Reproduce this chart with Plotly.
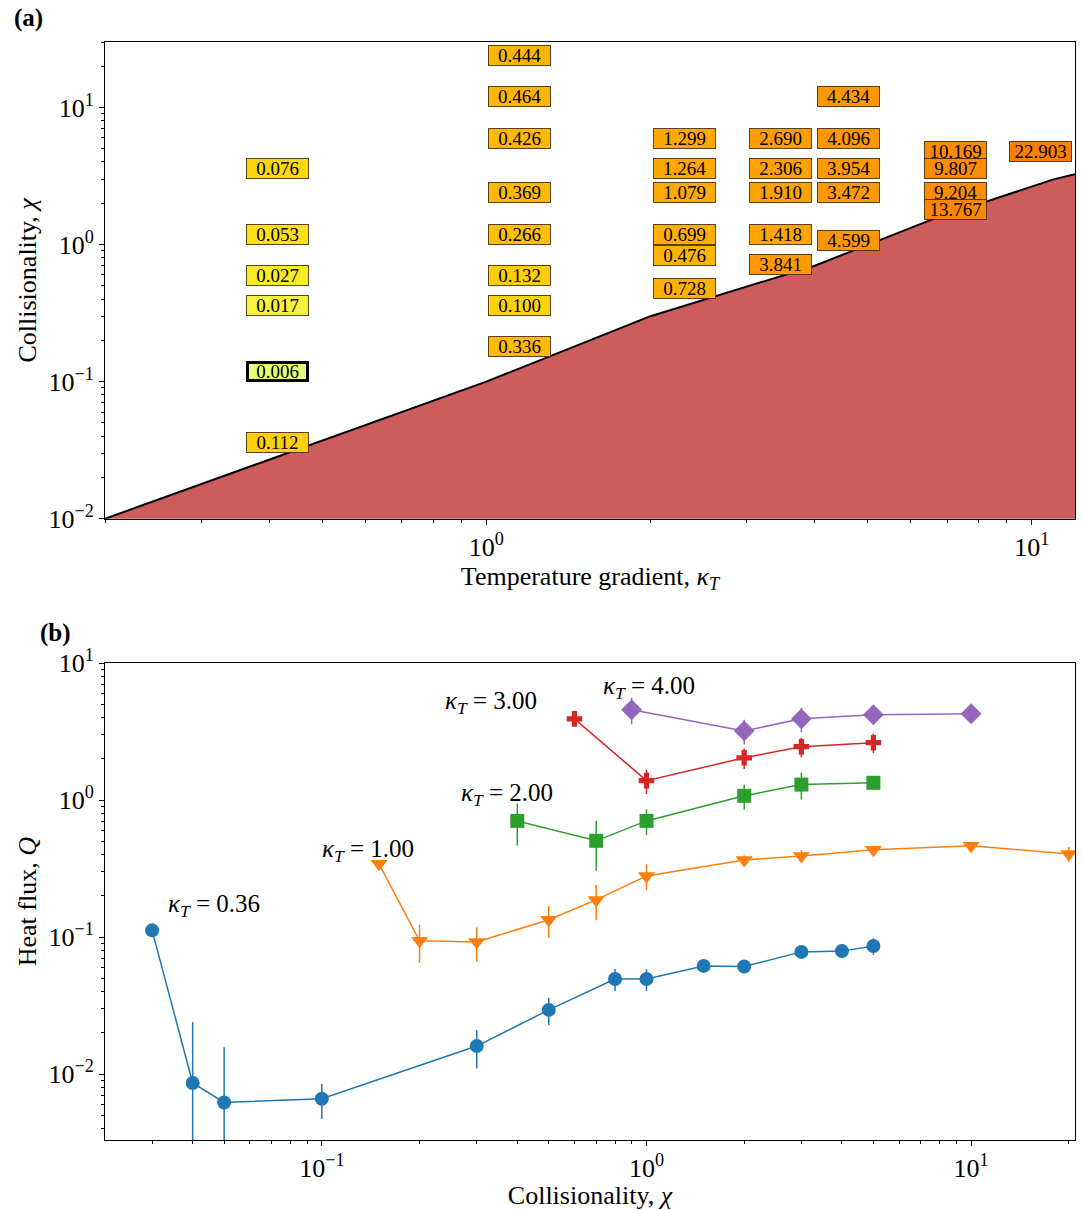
import numpy as np
import plotly.graph_objects as go
from plotly.colors import sample_colorscale

# ---------------- Panel (a) data ----------------
boundary_kappa = [0.2, 1.0, 2.0, 4.0, 6.5, 11.0, 12.0]
boundary_chi = [0.01, 0.1, 0.3, 0.7, 1.5, 3.0, 3.25]

label_kappa = [0.36, 0.36, 0.36, 0.36, 0.36, 0.36,
               1, 1, 1, 1, 1, 1, 1, 1,
               2, 2, 2, 2, 2, 2,
               3, 3, 3, 3, 3,
               4, 4, 4, 4, 4,
               6.3, 6.3, 6.3, 6.3,
               9]
label_chi = [3, 1, 0.5, 0.3, 0.1, 0.03,
             20, 10, 5, 2, 1, 0.5, 0.3, 0.15,
             5, 3, 2, 1, 0.7, 0.4,
             5, 3, 2, 1, 0.6,
             10, 5, 3, 2, 0.9,
             4, 3, 2, 1.5,
             4]
label_Q = [0.076, 0.053, 0.027, 0.017, 0.006, 0.112,
           0.444, 0.464, 0.426, 0.369, 0.266, 0.132, 0.100, 0.336,
           1.299, 1.264, 1.079, 0.699, 0.476, 0.728,
           2.690, 2.306, 1.910, 1.418, 3.841,
           4.434, 4.096, 3.954, 3.472, 4.599,
           10.169, 9.807, 9.204, 13.767,
           22.903]

# ---------------- Panel (b) data ----------------
chi_036 = [0.03, 0.04, 0.05, 0.1, 0.3, 0.5, 0.8, 1, 1.5, 2, 3, 4, 5]
Q_036 = [0.112, 0.0086, 0.0062, 0.0066, 0.016, 0.0294, 0.0494, 0.0494, 0.0616, 0.061, 0.078, 0.079, 0.086]
E_036 = [0.003, 0.0154, 0.0095, 0.0019, 0.005, 0.0066, 0.009, 0.009, 0.004, 0.005, 0.005, 0.004, 0.012]

chi_100 = [0.15, 0.2, 0.3, 0.5, 0.7, 1, 2, 3, 5, 10, 20]
Q_100 = [0.343, 0.094, 0.092, 0.134, 0.187, 0.28, 0.366, 0.392, 0.434, 0.464, 0.405]
E_100 = [0.02, 0.029, 0.026, 0.035, 0.054, 0.06, 0.03, 0.04, 0.03, 0.03, 0.05]

chi_200 = [0.4, 0.7, 1, 2, 3, 5]
Q_200 = [0.706, 0.505, 0.706, 1.077, 1.30, 1.34]
E_200 = [0.24, 0.2, 0.15, 0.22, 0.29, 0.03]

chi_300 = [0.6, 1, 2, 3, 5]
Q_300 = [3.93, 1.39, 2.04, 2.46, 2.63]
E_300 = [0.3, 0.28, 0.35, 0.4, 0.43]

chi_400 = [0.9, 2, 3, 5, 10]
Q_400 = [4.58, 3.21, 3.93, 4.21, 4.28]
E_400 = [1.0, 0.66, 0.8, 0.2, 0.2]

series_names = ["0.36", "1.00", "2.00", "3.00", "4.00"]
series_chi = [chi_036, chi_100, chi_200, chi_300, chi_400]
series_Q = [Q_036, Q_100, Q_200, Q_300, Q_400]
series_E = [E_036, E_100, E_200, E_300, E_400]
series_colors = ["#1f77b4", "#ff7f0e", "#2ca02c", "#d62728", "#9467bd"]
series_symbols = ["circle", "triangle-down", "square", "cross", "diamond"]
series_sizes = [14, 15, 14, 13, 16]
# label anchor positions (chi, Q) for the kappa_T texts
text_chi = [0.033, 0.099, 0.264, 0.236, 0.722]
text_Q = [0.169, 0.426, 1.095, 5.15, 6.64]

FONT = "Liberation Serif"

fig = go.Figure()

# ----- panel (a) -----
fig.add_trace(go.Scatter(
    x=boundary_kappa + [boundary_kappa[-1], boundary_kappa[0]],
    y=boundary_chi + [1e-3, 1e-3],
    fill="toself", fillcolor="#cd5c5c", mode="none",
    xaxis="x", yaxis="y", showlegend=False, hoverinfo="skip"))
fig.add_trace(go.Scatter(
    x=boundary_kappa, y=boundary_chi, mode="lines",
    line=dict(color="black", width=2),
    xaxis="x", yaxis="y", showlegend=False))

wistia = [[0.0, "rgb(228,255,122)"], [0.25, "rgb(255,232,26)"],
          [0.5, "rgb(255,189,0)"], [0.75, "rgb(255,160,0)"],
          [1.0, "rgb(252,127,0)"]]
lq = np.log10(label_Q)
norm = (lq - lq.min()) / (lq.max() - lq.min())
box_colors = sample_colorscale(wistia, [float(v) ** 0.9 for v in norm])
qmin = min(label_Q)

annotations = []
for k, c, q, col in zip(label_kappa, label_chi, label_Q, box_colors):
    hl = (q == qmin)
    annotations.append(dict(
        x=np.log10(k), y=np.log10(c), xref="x", yref="y",
        xanchor="left", yanchor="bottom", xshift=2,
        text=f"{q:.3f}", showarrow=False,
        font=dict(family=FONT, size=19, color="black"),
        bgcolor=col,
        bordercolor="black" if hl else "rgba(60,40,0,0.85)",
        borderwidth=3 if hl else 1, borderpad=0,
        width=57 if hl else 61, height=19 if not hl else 15))

# ----- panel (b) -----
for name, xs, ys, es, col, sym, sz, tx, ty in zip(
        series_names, series_chi, series_Q, series_E, series_colors,
        series_symbols, series_sizes, text_chi, text_Q):
    fig.add_trace(go.Scatter(
        x=xs, y=ys, mode="lines+markers",
        line=dict(color=col, width=1.5),
        marker=dict(symbol=sym, size=sz, color=col, line=dict(width=0)),
        error_y=dict(type="data", array=es, symmetric=True,
                     color=col, thickness=1.5, width=0),
        xaxis="x2", yaxis="y2", showlegend=False))
    annotations.append(dict(
        x=np.log10(tx), y=np.log10(ty), xref="x2", yref="y2",
        xanchor="left", yanchor="middle", showarrow=False,
        text=f"<i>κ</i><sub><i>T</i></sub> = {name}",
        font=dict(family=FONT, size=25, color="black")))

W, H = 1082, 1210
ML, MR, MT, MB = 105, 6, 42, 67
pw, ph = W - ML - MR, H - MT - MB
for txt, px, py in [("<b>(a)</b>", 12, 18), ("<b>(b)</b>", 38, 635)]:
    annotations.append(dict(
        x=(px - ML) / pw, y=1 - (py - MT) / ph, xref="paper", yref="paper",
        xanchor="left", yanchor="middle", text=txt, showarrow=False,
        font=dict(family=FONT, size=25, color="black")))


def decade_ticks(lo_exp, hi_exp):
    vals = [10.0 ** e for e in range(lo_exp, hi_exp + 1)]
    text = [f"10<sup>{'−' if e < 0 else ''}{abs(e)}</sup>" for e in range(lo_exp, hi_exp + 1)]
    minor = [m * 10.0 ** e for e in range(lo_exp - 1, hi_exp + 1) for m in range(2, 10)]
    return vals, text, minor


def ax(lo_exp, hi_exp, **kw):
    vals, text, minor = decade_ticks(lo_exp, hi_exp)
    d = dict(
        type="log", showgrid=False, zeroline=False, showline=True, mirror=True,
        linecolor="black", linewidth=1, ticks="outside", ticklen=5, tickwidth=1,
        tickcolor="black", tickmode="array", tickvals=vals, ticktext=text,
        tickfont=dict(family=FONT, size=26, color="black"),
        minor=dict(tickmode="array", tickvals=minor, ticks="outside",
                   ticklen=3, tickwidth=0.8, tickcolor="black", showgrid=False),
    )
    d.update(kw)
    return d


ya_bottom = (1143 - 520) / ph
yb_top = (1143 - 665) / ph

fig.update_layout(
    width=W, height=H,
    margin=dict(l=ML, r=MR, t=MT, b=MB),
    paper_bgcolor="white", plot_bgcolor="white",
    font=dict(family=FONT, color="black"),
    xaxis=ax(0, 1, domain=[0, 1], anchor="y",
             range=[np.log10(0.2), np.log10(12)],
             title=dict(text="Temperature gradient, <i>κ</i><sub><i>T</i></sub>",
                        font=dict(family=FONT, size=26), standoff=0)),
    yaxis=ax(-2, 1, domain=[ya_bottom, 1], anchor="x",
             range=[-2, np.log10(30)],
             title=dict(text="Collisionality, <i>χ</i>",
                        font=dict(family=FONT, size=26), standoff=4)),
    xaxis2=ax(-1, 1, domain=[0, 1], anchor="y2",
              range=[-1.668, 1.32],
              title=dict(text="Collisionality, <i>χ</i>",
                         font=dict(family=FONT, size=26), standoff=3)),
    yaxis2=ax(-2, 1, domain=[0, yb_top], anchor="x2",
              range=[-2.482, 1],
              title=dict(text="Heat flux, <i>Q</i>",
                         font=dict(family=FONT, size=26), standoff=4)),
    annotations=annotations,
)

fig.write_html("out.html")
